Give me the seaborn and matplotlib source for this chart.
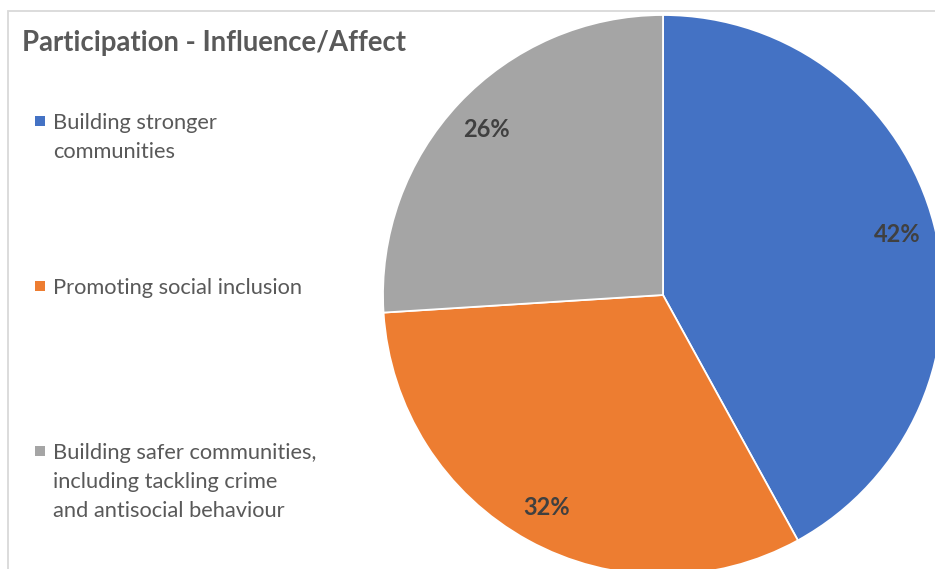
import matplotlib
matplotlib.use("Agg")
import matplotlib.pyplot as plt
from matplotlib.patches import Rectangle
import seaborn as sns

# Survey shares for the "Influence/Affect" participation theme
categories = [
    "Building stronger\ncommunities",
    "Promoting social inclusion",
    "Building safer communities,\nincluding tackling crime\nand antisocial behaviour",
]
shares = [42, 32, 26]
colors = sns.color_palette(["#4472C4", "#ED7D31", "#A5A5A5"])
title = "Participation - Influence/Affect"

sns.set_theme(style="white")
plt.rcParams["font.family"] = ["Lato", "DejaVu Sans"]

W, H = 935, 569
fig = plt.figure(figsize=(W / 100, H / 100), dpi=100)

# Pie centred at (663, 295) px with a 280 px radius
cx, cy, r = 663, 295, 280
ax = fig.add_axes([(cx - r) / W, (H - cy - r) / H, 2 * r / W, 2 * r / H])
wedges, _, pct = ax.pie(
    shares,
    colors=colors,
    startangle=90,
    counterclock=False,
    radius=1.0,
    autopct=lambda p: f"{p:.0f}%",
    pctdistance=0.865,
    wedgeprops=dict(edgecolor="white", linewidth=1.3),
    textprops=dict(color="#404040", fontsize=17, fontweight="bold"),
)
ax.set_xlim(-1, 1)
ax.set_ylim(-1, 1)
ax.set_aspect("equal")
ax.axis("off")

# Chart-area border (top and left edges visible)
fig.patches.append(Rectangle((8 / W, -0.1), 1.2, (H - 11) / H + 0.1,
                             transform=fig.transFigure, fill=False,
                             edgecolor="#D9D9D9", linewidth=1.3, zorder=0))

fig.text(22 / W, 1 - 43 / H, title, fontsize=19.8, fontweight="bold",
         color="#595959", ha="left", va="center")

# Legend entries on the left, one text per line with a 29 px line pitch
legend_y = [121, 286, 451]
line_pitch = 29
for label, col, y in zip(categories, colors, legend_y):
    fig.patches.append(Rectangle((35 / W, 1 - (y + 5) / H), 10 / W, 10 / H,
                                 transform=fig.transFigure, facecolor=col,
                                 edgecolor="none"))
    for i, line in enumerate(label.split("\n")):
        fig.text(53 / W, 1 - (y + 8 + i * line_pitch) / H, line,
                 fontsize=15.75, color="#595959", ha="left", va="baseline")

fig.savefig("out.png", dpi=100, facecolor="white")
